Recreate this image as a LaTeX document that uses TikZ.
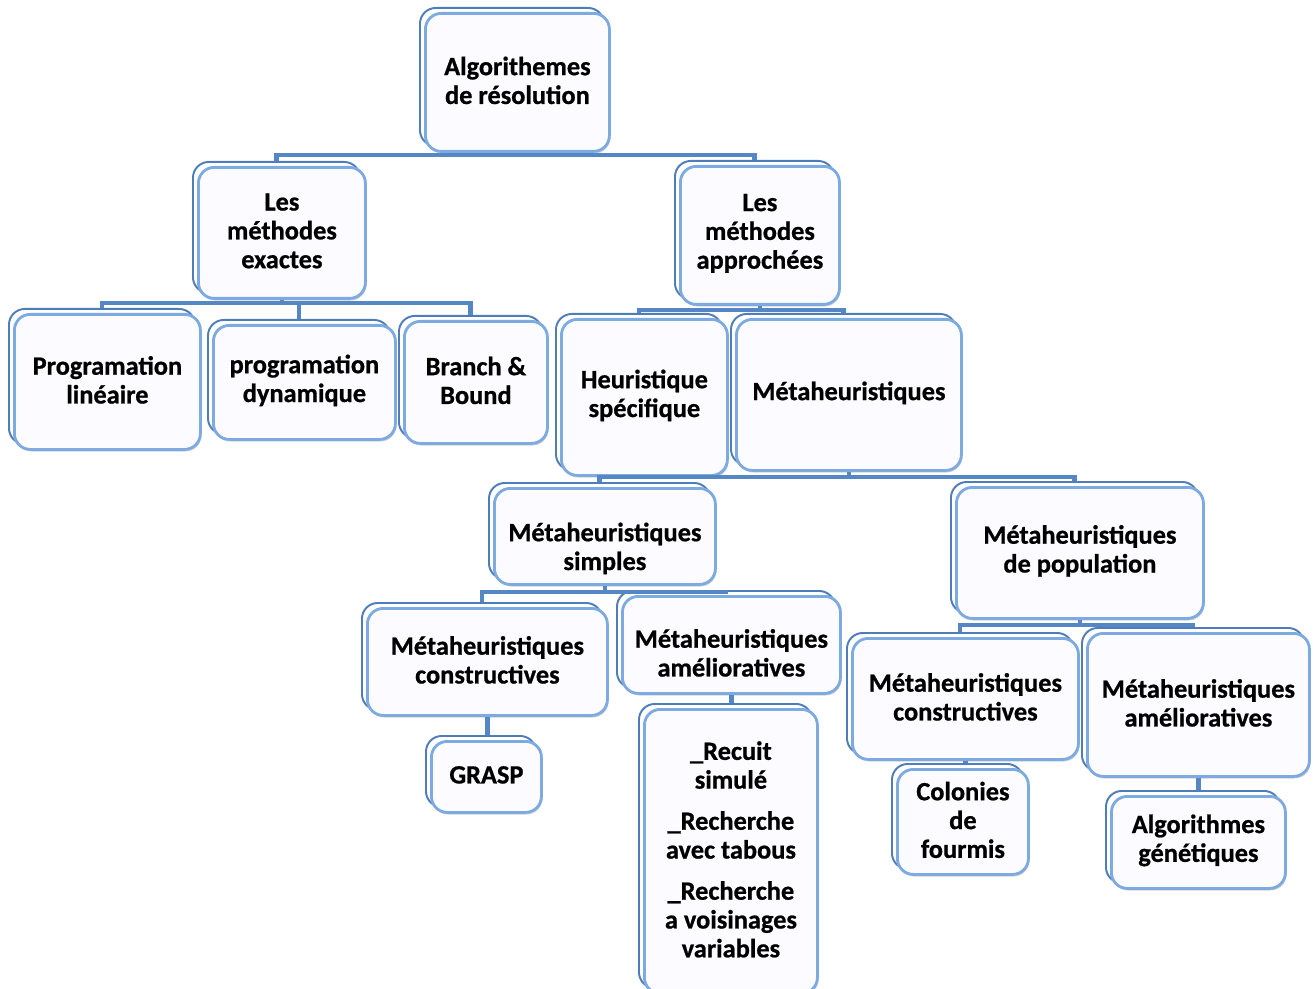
\documentclass[tikz,border=0pt]{standalone}
\usepackage{fontspec}
\setmainfont{Carlito}[BoldFont={Carlito Bold}, BoldFeatures={FakeBold=0.8}]
\usetikzlibrary{shadows,calc}
\definecolor{edgec}{RGB}{125,170,225}
\definecolor{backc}{RGB}{79,125,185}
\definecolor{fillc}{RGB}{252,251,255}
\definecolor{connc}{RGB}{84,135,196}
\tikzset{
  boxs/.style={draw=edgec, line width=1.6pt, fill=fillc, rounded corners=9pt,
    anchor=north west, inner sep=0pt,
    drop shadow={shadow xshift=0.6pt, shadow yshift=-1.2pt, opacity=0.35, fill=gray}},
  backs/.style={draw=backc, line width=1.1pt, fill=white, rounded corners=9pt,
    anchor=north west, inner sep=0pt},
  txts/.style={align=center, inner sep=0pt, font=\fontsize{15}{16.4}\selectfont\bfseries},
  conn/.style={draw=connc, line width=2.4pt}
}
\newcommand\mkbox[7]{%
  \node[backs, minimum width={(#4-#2)*0.02cm}, minimum height={(#5-#3)*0.02cm}] (#1b) at (#2-5,#3-5) {};
  \node[boxs, minimum width={(#4-#2)*0.02cm}, minimum height={(#5-#3)*0.02cm}] (#1) at (#2,#3) {};
  \node[txts] (#1t) at ($(#1.center)+(0,#7-2)$) {#6};
}
\begin{document}
\begin{tikzpicture}[x=0.02cm,y=-0.02cm]
\useasboundingbox (0,0) rectangle (1314,989);
\coordinate (y1) at (0,155);
\coordinate (y2) at (0,303);
\coordinate (y3) at (0,310);
\coordinate (y4) at (0,477);
\coordinate (y5) at (0,592);
\coordinate (y6) at (0,625);
% boxes
\mkbox{root}{424}{12}{608}{150}{Algorithemes\\de résolution}{0}
\mkbox{exa}{197}{166}{364}{297}{Les\\méthodes\\exactes}{0}
\mkbox{app}{679}{165}{838}{303}{Les\\méthodes\\approchées}{0}
\mkbox{pl}{13}{313}{199}{448}{Programation\\linéaire}{0}
\mkbox{pd}{212}{324}{394}{438}{programation\\dynamique}{0}
\mkbox{bb}{403}{320}{546}{442}{Branch \&\\Bound}{0}
\mkbox{hs}{560}{318}{726}{474}{Heuristique\\spécifique}{0}
\mkbox{mh}{735}{318}{960}{469}{Métaheuristiques}{0}
\mkbox{ms}{493}{487}{714}{583}{Métaheuristiques\\simples}{14}
\mkbox{mp}{955}{486}{1202}{617}{Métaheuristiques\\de population}{0}
\mkbox{mcl}{366}{607}{606}{714}{Métaheuristiques\\constructives}{0}
\mkbox{mal}{621}{595}{839}{692}{Métaheuristiques\\amélioratives}{10}
\mkbox{gr}{430}{740}{540}{811}{GRASP}{0}
\mkbox{rs}{643}{708}{816}{992}{\_Recuit\\simulé\\[7pt]\_Recherche\\avec tabous\\[7pt]\_Recherche\\a voisinages\\variables}{0}
\mkbox{mcr}{851}{637}{1077}{758}{Métaheuristiques\\constructives}{0}
\mkbox{mar}{1086}{632}{1308}{775}{Métaheuristiques\\amélioratives}{0}
\mkbox{cf}{896}{768}{1027}{873}{Colonies\\de\\fourmis}{0}
\mkbox{ag}{1110}{795}{1284}{887}{Algorithmes\\génétiques}{0}
% connectors
\draw[conn] (root.south) -- (root.south |- y1) -| (exab.north);
\draw[conn] (root.south |- y1) -| (appb.north);
\draw[conn] (exa.south) -- (exa.south |- y2) -| (plb.north);
\draw[conn] (exa.south |- y2) -| (pdb.north);
\draw[conn] (exa.south |- y2) -| (bbb.north);
\draw[conn] (app.south) -- (app.south |- y3) -| (hsb.north);
\draw[conn] (app.south |- y3) -| (mhb.north);
\draw[conn] (mh.south) -- (mh.south |- y4) -| (msb.north);
\draw[conn] (mh.south |- y4) -| (mpb.north);
\draw[conn] (ms.south) -- (ms.south |- y5) -| (mclb.north);
\draw[conn] (ms.south |- y5) -| (malb.north);
\draw[conn] (mp.south) -- (mp.south |- y6) -| (mcrb.north);
\draw[conn] (mp.south |- y6) -| (marb.north);
\draw[conn] (mcl.south) -- (grb.north -| mcl.south);
\draw[conn] (mal.south) -- (rsb.north -| mal.south);
\draw[conn] (mcr.south) -- (cfb.north -| mcr.south);
\draw[conn] (mar.south) -- (agb.north -| mar.south);
\end{tikzpicture}
\end{document}
